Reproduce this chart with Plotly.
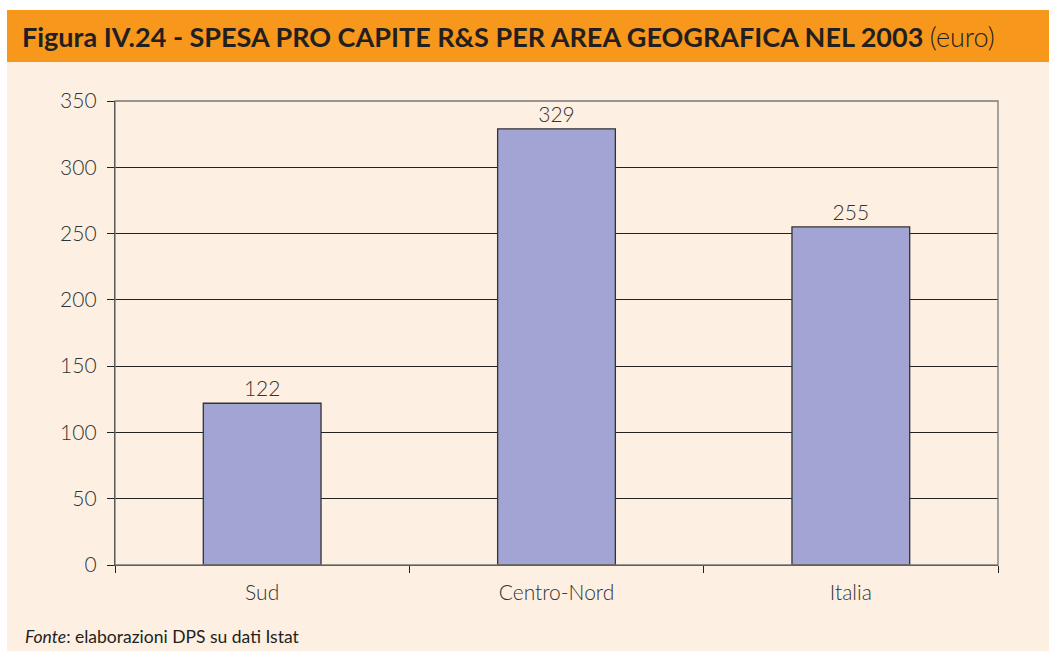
import plotly.graph_objects as go

# Dati: spesa pro capite R&S per area geografica, 2003 (euro)
aree = ['Sud', 'Centro-Nord', 'Italia']
spesa = [122, 329, 255]

W, H = 1049, 653
L, R, T, B = 115, 51, 101, 88
pw, ph = W - L - R, H - T - B

def px_x(x):
    return (x - L) / pw

def px_y(y):
    return (H - B - y) / ph

ORANGE = '#F7981D'
CREAM = '#FDF0E2'
BAR = '#A2A5D4'
FONT = 'Lato'

fig = go.Figure(go.Bar(
    x=aree, y=spesa,
    marker=dict(color=BAR, line=dict(color='#333333', width=1.3)),
    width=0.4,
    text=spesa, textposition='outside',
    textfont=dict(family=FONT, size=21, color='#333333', weight=300),
    cliponaxis=False,
))

fig.update_layout(
    width=W, height=H,
    margin=dict(l=L, r=R, t=T, b=B),
    paper_bgcolor=CREAM,
    plot_bgcolor=CREAM,
    showlegend=False,
    shapes=[
        # bordo bianco in alto, a sinistra e in basso
        dict(type='rect', xref='paper', yref='paper', layer='below',
             x0=px_x(0), x1=px_x(W), y0=px_y(10), y1=px_y(0),
             fillcolor='white', line_width=0),
        dict(type='rect', xref='paper', yref='paper', layer='below',
             x0=px_x(0), x1=px_x(7), y0=px_y(H), y1=px_y(0),
             fillcolor='white', line_width=0),
        dict(type='rect', xref='paper', yref='paper', layer='below',
             x0=px_x(0), x1=px_x(W), y0=px_y(H), y1=px_y(651),
             fillcolor='white', line_width=0),
        # fascia arancione del titolo
        dict(type='rect', xref='paper', yref='paper', layer='below',
             x0=px_x(7), x1=px_x(W), y0=px_y(62), y1=px_y(10),
             fillcolor=ORANGE, line_width=0),
        # cornice dell'area del grafico
        dict(type='rect', xref='paper', yref='paper', layer='above',
             x0=0, x1=1, y0=0, y1=1,
             line=dict(color='#777777', width=1.3)),
    ],
    annotations=[
        dict(xref='paper', yref='paper', x=px_x(20), y=px_y(37),
             xanchor='left', yanchor='middle', showarrow=False,
             text="<b>Figura IV.24 - SPESA PRO CAPITE R&S PER AREA GEOGRAFICA NEL 2003</b> "
                  "<span style='font-weight:300'>(euro)</span>",
             font=dict(family=FONT, size=27, color='#231F20', weight=900)),
        dict(xref='paper', yref='paper', x=px_x(23), y=px_y(636),
             xanchor='left', yanchor='middle', showarrow=False,
             text="<i>Fonte</i>: elaborazioni DPS su dati Istat",
             font=dict(family=FONT, size=17.5, color='#231F20')),
    ],
)

fig.update_yaxes(
    range=[0, 350], dtick=50,
    showgrid=True, gridcolor='#222222', gridwidth=1.2,
    showline=True, linecolor='#222222', linewidth=1.3,
    ticks='outside', ticklen=7, tickcolor='#222222',
    ticklabelstandoff=6,
    tickfont=dict(family=FONT, size=21, color='#333333', weight=300),
    zeroline=False,
)
fig.update_xaxes(
    showline=True, linecolor='#222222', linewidth=1.3,
    ticks='outside', ticklen=7, tickcolor='#222222',
    tickson='boundaries', ticklabelstandoff=9,
    tickfont=dict(family=FONT, size=21, color='#333333', weight=300),
)

fig.write_html('out.html', config={'displayModeBar': False},
               post_script="document.body.style.margin='0';")
